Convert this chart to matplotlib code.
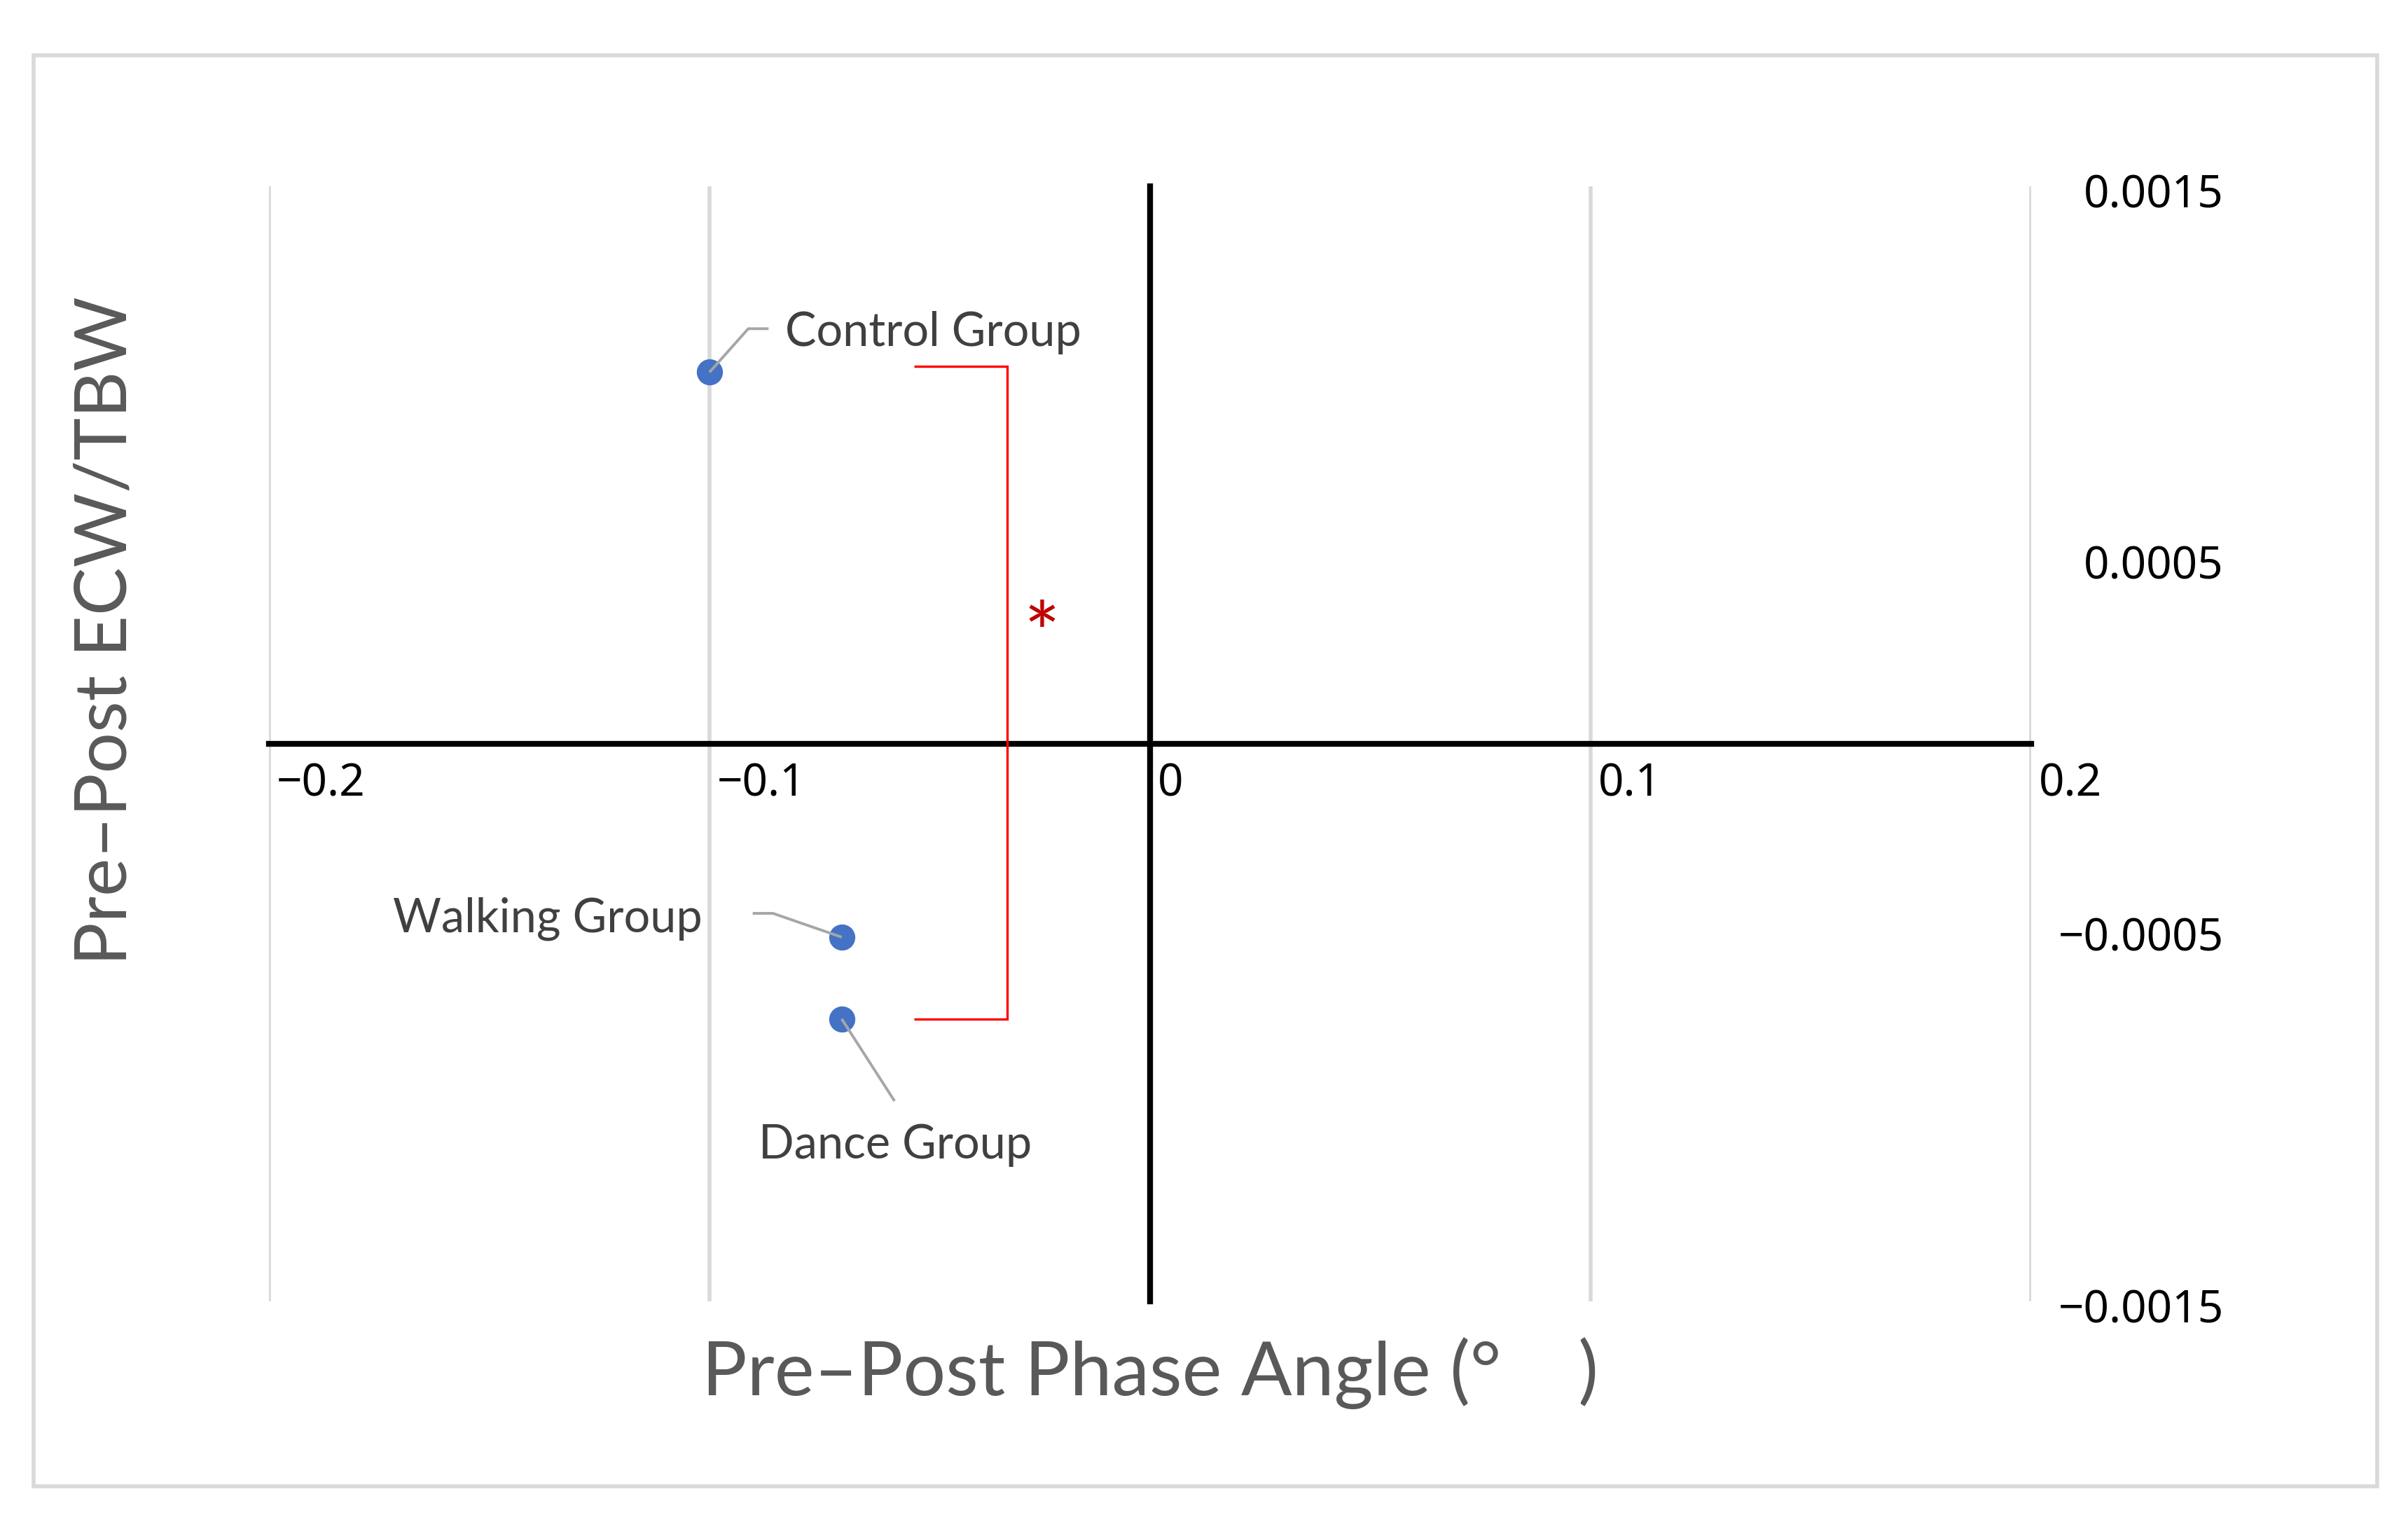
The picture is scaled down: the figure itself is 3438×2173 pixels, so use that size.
import matplotlib
matplotlib.use('Agg')
import matplotlib.pyplot as plt
from matplotlib.transforms import ScaledTranslation
from matplotlib.patches import Rectangle

# ---------------- data ----------------
groups = ['Control Group', 'Walking Group', 'Dance Group']
phase_angle_change = [-0.100, -0.070, -0.070]
ecw_tbw_change = [0.00100, -0.00052, -0.00074]

x_ticks = [-0.2, -0.1, 0, 0.1, 0.2]
x_ticklabels = ['\u22120.2', '\u22120.1', '0', '0.1', '0.2']
y_ticks = [0.0015, 0.0005, -0.0005, -0.0015]
y_ticklabels = ['0.0015', '0.0005', '\u22120.0005', '\u22120.0015']

x_title = 'Pre\u2013Post Phase Angle (\u00b0    )'
y_title = 'Pre\u2013Post ECW/TBW'

# data-label anchors (baseline) and leader-line elbows, in data units
label_x = [-0.0828, -0.1016, -0.0579]
label_y = [0.00107, -0.000506, -0.001115]
label_ha = ['left', 'right', 'center']
leader_x = [[-0.0912, -0.0866], [-0.0856, -0.0902], [-0.0580]]
leader_y = [[0.001117, 0.001117], [-0.000456, -0.000456], [-0.000961]]

# significance bracket between Control and Dance groups
bracket_x = [-0.0535, -0.0325, -0.0325, -0.0535]
bracket_y = [0.001015, 0.001015, -0.00074, -0.00074]
star_x, star_y, star_text = -0.0246, 0.000215, '*'   # baseline of the asterisk

# ---------------- style ----------------
plt.rcParams['font.family'] = ['Noto Sans', 'DejaVu Sans']
LABEL_FONT = ['Lato', 'DejaVu Sans']

fig = plt.figure(figsize=(17.19, 10.865), dpi=200)
ax = fig.add_axes([0.1117, 0.14496, 0.7318, 0.7326])

# outer chart border
fig.patches.append(Rectangle((0.01396, 0.02347), 0.97324, 0.94017,
                             transform=fig.transFigure, fill=False,
                             ec='#d9d9d9', lw=2.0))

ax.set_xlim(-0.2, 0.2)
ax.set_ylim(-0.0015, 0.0015)

for side in ['top', 'right']:
    ax.spines[side].set_visible(False)
ax.spines['left'].set_position(('data', 0))
ax.spines['bottom'].set_position(('data', 0))
for side in ['left', 'bottom']:
    ax.spines[side].set_color('black')
    ax.spines[side].set_linewidth(3.0)
    ax.spines[side].set_zorder(2.5)

ax.xaxis.set_ticks_position('bottom')
ax.set_xticks(x_ticks, labels=x_ticklabels)
ax.yaxis.set_ticks_position('right')
ax.set_yticks(y_ticks, labels=y_ticklabels)

ax.tick_params(axis='x', length=0, pad=9, labelsize=23, labelcolor='black')
ax.tick_params(axis='y', length=0, pad=99, labelsize=23, labelcolor='black',
               left=False, labelleft=False, right=False, labelright=True)

ax.set_axisbelow(True)
ax.grid(axis='x', color='#d9d9d9', lw=2.0)
ax.grid(axis='y', visible=False)

for t in ax.xaxis.get_major_ticks():
    t.label1.set_horizontalalignment('left')
    t.label1.set_transform(t.label1.get_transform() +
                           ScaledTranslation(4 / 72, 0, fig.dpi_scale_trans))
for t in ax.yaxis.get_major_ticks():
    t.label2.set_horizontalalignment('right')
    t.label2.set_transform(t.label2.get_transform() +
                           ScaledTranslation(0, -2 / 72, fig.dpi_scale_trans))

# points
ax.scatter(phase_angle_change, ecw_tbw_change, s=180, color='#4472C4',
           linewidths=0, zorder=3)

# leader lines + data labels
for i, g in enumerate(groups):
    ax.plot([phase_angle_change[i]] + leader_x[i],
            [ecw_tbw_change[i]] + leader_y[i],
            color='#a6a6a6', lw=1.4, zorder=4, solid_capstyle='butt')
    ax.text(label_x[i], label_y[i], g, ha=label_ha[i], va='baseline',
            fontsize=24, color='#404040', family=LABEL_FONT, zorder=5)

# significance bracket
ax.plot(bracket_x, bracket_y, color='#ff0000', lw=1.2, zorder=6,
        solid_joinstyle='miter', solid_capstyle='butt')
ax.text(star_x, star_y, star_text, ha='center', va='baseline', fontsize=44,
        color='#c00000', family=LABEL_FONT, zorder=6)

# axis titles
fig.text(0.1117 + 0.7318 / 2, 0.0835, x_title, ha='center', va='baseline',
         fontsize=38.7, color='#595959', family=LABEL_FONT)
fig.text(0.05236, 0.5855, y_title, rotation=90, rotation_mode='anchor',
         ha='center', va='baseline', fontsize=37, color='#595959',
         family=LABEL_FONT)

fig.savefig('out.png', dpi=200)
